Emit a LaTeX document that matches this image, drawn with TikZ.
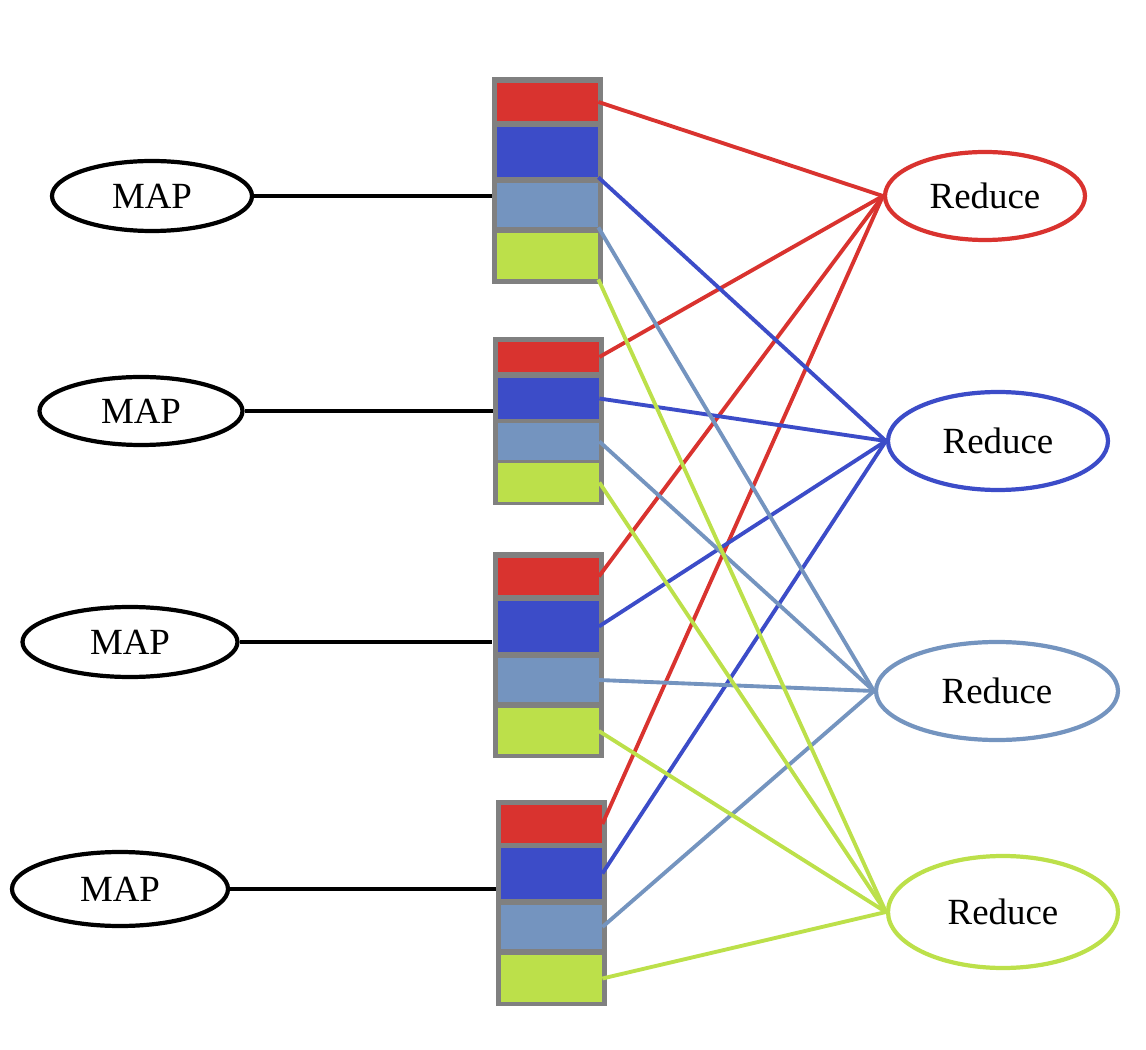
\documentclass[tikz,border=0pt]{standalone}
\usepackage{fontspec}
\setmainfont{Liberation Serif}
\usetikzlibrary{shapes.geometric}
\definecolor{cred}{HTML}{D9332F}
\definecolor{cblue}{HTML}{3C4CC8}
\definecolor{clblue}{HTML}{7494BF}
\definecolor{cgreen}{HTML}{BCE04A}
\definecolor{cgray}{HTML}{808080}
\tikzset{
  mapnode/.style={ellipse, draw=black, line width=2.4pt, inner sep=0pt, font=\fontsize{21}{25}\selectfont},
  rednode/.style={ellipse, line width=2.4pt, inner sep=0pt, font=\fontsize{21}{25}\selectfont},
  outerbox/.style={rectangle, fill=cgray, inner sep=0pt, minimum width=111*0.02cm},
  cell/.style={rectangle, inner sep=0pt, minimum width=101*0.02cm},
  link/.style={line width=2.2pt},
  mapline/.style={line width=2.6pt, black}
}
\begin{document}
\begin{tikzpicture}[x=0.02cm, y=-0.02cm]
\useasboundingbox (0,0) rectangle (1146,1050);
% boxes
\node[outerbox, minimum height=207*0.02cm] (bx1) at (547.5,180.5) {};
\node[cell, fill=cred,   minimum height=38*0.02cm] (b1r) at (547.5,102) {};
\node[cell, fill=cblue,  minimum height=50*0.02cm] (b1b) at (547.5,152) {};
\node[cell, fill=clblue, minimum height=44*0.02cm] (b1l) at (547.5,205) {};
\node[cell, fill=cgreen, minimum height=46*0.02cm] (b1g) at (547.5,256) {};

\node[outerbox, minimum height=168*0.02cm] (bx2) at (548.5,421) {};
\node[cell, fill=cred,   minimum height=30*0.02cm] (b2r) at (548.5,357) {};
\node[cell, fill=cblue,  minimum height=41*0.02cm] (b2b) at (548.5,398.5) {};
\node[cell, fill=clblue, minimum height=37*0.02cm] (b2l) at (548.5,441.5) {};
\node[cell, fill=cgreen, minimum height=39*0.02cm] (b2g) at (548.5,482.5) {};

\node[outerbox, minimum height=206*0.02cm] (bx3) at (548,655) {};
\node[cell, fill=cred,   minimum height=37*0.02cm] (b3r) at (548,576.5) {};
\node[cell, fill=cblue,  minimum height=51*0.02cm] (b3b) at (548,626.5) {};
\node[cell, fill=clblue, minimum height=44*0.02cm] (b3l) at (548,680) {};
\node[cell, fill=cgreen, minimum height=46*0.02cm] (b3g) at (548,731) {};

\node[outerbox, minimum height=206*0.02cm] (bx4) at (551.5,903) {};
\node[cell, fill=cred,   minimum height=38*0.02cm] (b4r) at (551.5,824) {};
\node[cell, fill=cblue,  minimum height=51*0.02cm] (b4b) at (551.5,873.5) {};
\node[cell, fill=clblue, minimum height=44*0.02cm] (b4l) at (551.5,927) {};
\node[cell, fill=cgreen, minimum height=47*0.02cm] (b4g) at (551.5,978.5) {};

% MAP nodes
\node[mapnode, minimum width=200*0.02cm, minimum height=70*0.02cm] (m1) at (152,196) {MAP};
\node[mapnode, minimum width=203*0.02cm, minimum height=68*0.02cm] (m2) at (141,411) {MAP};
\node[mapnode, minimum width=215*0.02cm, minimum height=70*0.02cm] (m3) at (130,642) {MAP};
\node[mapnode, minimum width=216*0.02cm, minimum height=74*0.02cm] (m4) at (120,889) {MAP};

% Reduce nodes
\node[rednode, draw=cred,   minimum width=200*0.02cm, minimum height=88*0.02cm] (r1) at (985,196) {Reduce};
\node[rednode, draw=cblue,  minimum width=220*0.02cm, minimum height=98*0.02cm] (r2) at (998,441) {Reduce};
\node[rednode, draw=clblue, minimum width=242*0.02cm, minimum height=98*0.02cm] (r3) at (997,691) {Reduce};
\node[rednode, draw=cgreen, minimum width=230*0.02cm, minimum height=112*0.02cm] (r4) at (1003,912) {Reduce};

% MAP to boxes
\draw[mapline] (m1.east) -- (m1.east -| bx1.west);
\draw[mapline] (m2.east) -- (m2.east -| bx2.west);
\draw[mapline] (m3.east) -- (m3.east -| bx3.west);
\draw[mapline] (m4.east) -- (m4.east -| bx4.west);

% links
\draw[link, cred] (b1r.east) -- (r1.west);
\draw[link, cred] (b2r.east) -- (r1.west);
\draw[link, cred] (b3r.east) -- (r1.west);
\draw[link, cred] (b4r.east) -- (r1.west);

\draw[link, cblue] (b1b.south east) -- (r2.west);
\draw[link, cblue] (b2b.east) -- (r2.west);
\draw[link, cblue] (b3b.east) -- (r2.west);
\draw[link, cblue] (b4b.east) -- (r2.west);

\draw[link, clblue] (b1l.south east) -- (r3.west);
\draw[link, clblue] (b2l.east) -- (r3.west);
\draw[link, clblue] (b3l.east) -- (r3.west);
\draw[link, clblue] (b4l.east) -- (r3.west);

\draw[link, cgreen] (b1g.south east) -- (r4.west);
\draw[link, cgreen] (b2g.east) -- (r4.west);
\draw[link, cgreen] (b3g.east) -- (r4.west);
\draw[link, cgreen] (b4g.east) -- (r4.west);
\end{tikzpicture}
\end{document}
